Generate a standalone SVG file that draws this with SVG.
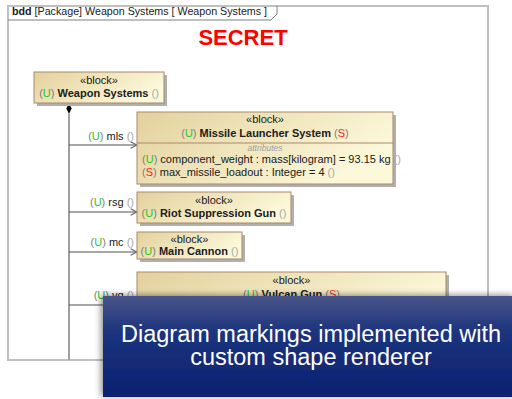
<svg xmlns="http://www.w3.org/2000/svg" width="512" height="399" viewBox="0 0 512 399">
<defs>
<linearGradient id="blk" x1="0" y1="0" x2="1" y2="0.4">
<stop offset="0" stop-color="#e3d19d"/>
<stop offset="1" stop-color="#fcf8da"/>
</linearGradient>
<linearGradient id="ov" x1="0" y1="0" x2="0" y2="1">
<stop offset="0" stop-color="#4a5589"/>
<stop offset="0.35" stop-color="#1c347d"/>
<stop offset="1" stop-color="#0a2170"/>
</linearGradient>
<filter id="sh" x="-10%" y="-20%" width="120%" height="140%">
<feDropShadow dx="-2" dy="-1" stdDeviation="3" flood-color="#000" flood-opacity="0.45"/>
</filter>
<marker id="arr" viewBox="0 0 10 10" refX="9" refY="5" markerWidth="8" markerHeight="8" markerUnits="userSpaceOnUse" orient="auto">
<path d="M1,1 L9,5 L1,9" fill="none" stroke="#606060" stroke-width="1.3"/>
</marker>
<style>
text{font-family:"Liberation Sans",Arial,sans-serif;font-size:11px;fill:#202020}
.box{fill:url(#blk);stroke:#a8896a;stroke-width:1}
.shd{fill:#b0b0b0}
.st{text-anchor:middle}
.nm{text-anchor:middle;font-weight:bold}
.p{fill:#808080;font-weight:normal}
.u{fill:#1ec81e;font-weight:normal}
.s{fill:#ff2020;font-weight:normal}
.e{fill:#a8a8a8;font-weight:normal}
.lbl{text-anchor:end}
.conn{stroke:#505050;stroke-width:1;fill:none;marker-end:url(#arr)}
.ovt{text-anchor:middle;font-size:23.5px;fill:#ffffff}
</style>
</defs>
<rect width="512" height="399" fill="#ffffff"/>
<g id="frame">
<rect x="8" y="6" width="480" height="354" fill="none" stroke="#c0c0c0" stroke-width="2"/>
<path d="M8,20 L271,20 L277,14 L277,6" fill="none" stroke="#808080" stroke-width="1"/>
<text x="12" y="15" style="font-size:10.7px"><tspan font-weight="bold">bdd</tspan> [Package] Weapon Systems [ Weapon Systems ]</text>
</g>
<text id="marking" x="243" y="45" text-anchor="middle" style="font-size:22px;font-weight:bold;fill:#ff0000">SECRET</text>
<g id="connectors">
<path d="M69,114 L69,360" stroke="#a0a0a0" stroke-width="2" fill="none"/>
<path d="M69,103 L71.6,108.5 L69,114 L66.4,108.5 Z" fill="#000"/>
<path class="conn" d="M69,145 L137,145"/>
<path class="conn" d="M69,212 L137,212"/>
<path class="conn" d="M69,252 L137,252"/>
<path class="conn" d="M69,305 L137,305"/>
<text class="lbl" x="134" y="140"><tspan class="p">(</tspan><tspan class="u">U</tspan><tspan class="p">)</tspan> mls <tspan class="e">()</tspan></text>
<text class="lbl" x="134" y="206"><tspan class="p">(</tspan><tspan class="u">U</tspan><tspan class="p">)</tspan> rsg <tspan class="e">()</tspan></text>
<text class="lbl" x="134" y="246"><tspan class="p">(</tspan><tspan class="u">U</tspan><tspan class="p">)</tspan> mc <tspan class="e">()</tspan></text>
<text class="lbl" x="134" y="299"><tspan class="p">(</tspan><tspan class="u">U</tspan><tspan class="p">)</tspan> vg <tspan class="e">()</tspan></text>
</g>
<g id="weapon-systems">
<rect class="shd" x="37" y="75" width="130" height="31"/>
<rect class="box" x="34" y="72" width="130" height="31"/>
<text class="st" x="99" y="84">«block»</text>
<text class="nm" x="99" y="97"><tspan class="p">(</tspan><tspan class="u">U</tspan><tspan class="p">)</tspan> Weapon Systems <tspan class="e">()</tspan></text>
</g>
<g id="missile-launcher-system">
<rect class="shd" x="140" y="115" width="256" height="72"/>
<rect class="box" x="137" y="112" width="256" height="72"/>
<line x1="137" y1="143" x2="393" y2="143" stroke="#a8896a" stroke-width="1"/>
<text class="st" x="265" y="123">«block»</text>
<text class="nm" x="265" y="137"><tspan class="p">(</tspan><tspan class="u">U</tspan><tspan class="p">)</tspan> Missile Launcher System <tspan class="p">(</tspan><tspan class="s">S</tspan><tspan class="p">)</tspan></text>
<text class="st" x="265" y="151" style="font-size:8.5px;font-style:italic;fill:#a0a0a0">attributes</text>
<text x="142" y="162.5"><tspan class="p">(</tspan><tspan class="u">U</tspan><tspan class="p">)</tspan> component_weight : mass[kilogram] = 93.15 kg <tspan class="e">()</tspan></text>
<text x="142" y="176"><tspan class="p">(</tspan><tspan class="s">S</tspan><tspan class="p">)</tspan> max_missile_loadout : Integer = 4 <tspan class="e">()</tspan></text>
</g>
<g id="riot-suppression-gun">
<rect class="shd" x="140" y="195" width="154" height="31"/>
<rect class="box" x="137" y="192" width="154" height="31"/>
<text class="st" x="214" y="204">«block»</text>
<text class="nm" x="214" y="217"><tspan class="p">(</tspan><tspan class="u">U</tspan><tspan class="p">)</tspan> Riot Suppression Gun <tspan class="e">()</tspan></text>
</g>
<g id="main-cannon">
<rect class="shd" x="140" y="235" width="105" height="27"/>
<rect class="box" x="137" y="232" width="105" height="27"/>
<text class="st" x="189.5" y="243">«block»</text>
<text class="nm" x="189.5" y="255"><tspan class="p">(</tspan><tspan class="u">U</tspan><tspan class="p">)</tspan> Main Cannon <tspan class="e">()</tspan></text>
</g>
<g id="vulcan-gun">
<rect class="shd" x="140" y="275" width="309" height="60"/>
<rect class="box" x="137" y="272" width="309" height="60"/>
<text class="st" x="291.5" y="284">«block»</text>
<text class="nm" x="291.5" y="298"><tspan class="p">(</tspan><tspan class="u">U</tspan><tspan class="p">)</tspan> Vulcan Gun <tspan class="p">(</tspan><tspan class="s">S</tspan><tspan class="p">)</tspan></text>
</g>
<g id="callout">
<rect x="103" y="296" width="412" height="101" fill="url(#ov)" filter="url(#sh)"/>
<text class="ovt" x="311" y="341.5">Diagram markings implemented with</text>
<text class="ovt" x="311" y="364.5">custom shape renderer</text>
</g>
</svg>
